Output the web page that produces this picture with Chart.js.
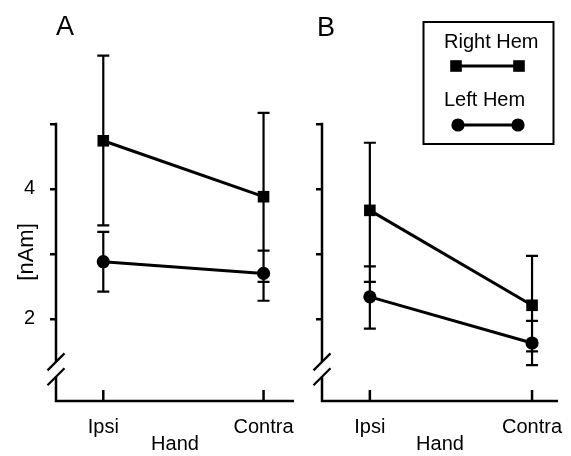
<!DOCTYPE html>
<html>
<head>
<meta charset="utf-8">
<script src="https://cdn.jsdelivr.net/npm/chart.js@4/dist/chart.umd.min.js"></script>
<style>
  html, body { margin: 0; padding: 0; background: #fff; }
  #wrap { position: relative; width: 571px; height: 456px; background: #fff; }
  canvas { position: absolute; top: 0; }
</style>
</head>
<body>
<div id="wrap">
  <canvas id="chartA" width="300" height="456" style="left:0"></canvas>
  <canvas id="chartB" width="281" height="456" style="left:290px"></canvas>
</div>
<script>
// ── Data ──────────────────────────────────────────────────────────────────────
const hands       = ['Ipsi', 'Contra'];
const handPos     = [0, 1];
const yTicks      = [2, 3, 4, 5];
const yTickLabels = ['2', '', '4', ''];
const seriesNames = ['Right Hem', 'Left Hem'];

// Panel A
const aRightMean = [4.74, 3.88];
const aRightHigh = [6.05, 5.17];
const aRightLow  = [3.44, 2.57];
const aLeftMean  = [2.88, 2.70];
const aLeftHigh  = [3.34, 3.05];
const aLeftLow   = [2.42, 2.28];

// Panel B
const bRightMean = [3.67, 2.21];
const bRightHigh = [4.71, 2.97];
const bRightLow  = [2.57, 1.50];
const bLeftMean  = [2.34, 1.63];
const bLeftHigh  = [2.81, 1.97];
const bLeftLow   = [1.85, 1.29];

// axis break (values on the y scale)
const breakTop = 1.34, breakBottom = 1.11;

const FONT = '"Liberation Sans", Arial, Helvetica, sans-serif';
const INK  = '#000';

// ── Helpers ───────────────────────────────────────────────────────────────────
const pts = ys => handPos.map((x, i) => ({ x, y: ys[i] }));

function drawMarker(ctx, style, x, y) {
    ctx.beginPath();
    if (style === 'rect') ctx.rect(x - 5.8, y - 5.8, 11.6, 11.6);
    else ctx.arc(x, y, 6.6, 0, Math.PI * 2);
    ctx.fill();
}

// no label-driven padding: the plot box is placed by hand
const noPad = s => { s.paddingLeft = s.paddingRight = s.paddingTop = s.paddingBottom = 0; };

function decoPlugin(p) {
    return {
        id: 'deco',
        beforeDatasetsDraw(chart) {
            const { ctx, chartArea: ca } = chart;
            const xs = chart.scales.x, ys = chart.scales.y;
            ctx.save();
            ctx.strokeStyle = INK;
            ctx.lineCap = 'butt';

            // axes with break
            ctx.lineWidth = 2.5;
            const ax = ca.left;
            const yTop = ys.getPixelForValue(yTicks[yTicks.length - 1]) - 1.25;
            const b1 = ys.getPixelForValue(breakTop), b2 = ys.getPixelForValue(breakBottom);
            ctx.beginPath();
            ctx.moveTo(ax, yTop); ctx.lineTo(ax, b1);
            ctx.moveTo(ax, b2); ctx.lineTo(ax, ca.bottom);
            ctx.lineTo(ca.right, ca.bottom);
            ctx.stroke();

            ctx.lineWidth = 2.2;
            ctx.beginPath();
            [b1, b2].forEach(b => { ctx.moveTo(ax - 8.5, b + 8.5); ctx.lineTo(ax + 8.5, b - 8.5); });
            ctx.stroke();

            // x tick marks pointing up
            ctx.lineWidth = 2.5;
            ctx.beginPath();
            handPos.forEach(v => {
                const px = xs.getPixelForValue(v);
                ctx.moveTo(px, ca.bottom); ctx.lineTo(px, ca.bottom - 11);
            });
            ctx.stroke();

            // error bars
            ctx.lineWidth = 2.2;
            ctx.beginPath();
            p.errors.forEach(({ low, high }) => {
                handPos.forEach((v, i) => {
                    const px = xs.getPixelForValue(v);
                    const yl = ys.getPixelForValue(low[i]), yh = ys.getPixelForValue(high[i]);
                    ctx.moveTo(px, yh); ctx.lineTo(px, yl);
                    ctx.moveTo(px - 6, yh); ctx.lineTo(px + 6, yh);
                    ctx.moveTo(px - 6, yl); ctx.lineTo(px + 6, yl);
                });
            });
            ctx.stroke();
            ctx.restore();
        },
        afterDraw(chart) {
            const { ctx } = chart;
            const ys = chart.scales.y;
            ctx.save();
            ctx.fillStyle = INK;
            ctx.textBaseline = 'alphabetic';

            // panel letter
            ctx.font = `27px ${FONT}`;
            ctx.textAlign = 'left';
            ctx.fillText(p.letter, p.letterX, p.letterY);

            // y title, sitting at the unlabeled middle tick
            if (p.yTitle) {
                ctx.save();
                ctx.font = `22px ${FONT}`;
                ctx.translate(27, ys.getPixelForValue(3) - 2);
                ctx.rotate(-Math.PI / 2);
                ctx.textAlign = 'center';
                ctx.textBaseline = 'middle';
                ctx.fillText(p.yTitle, 0, 0);
                ctx.restore();
            }

            // legend box
            if (p.legend) {
                ctx.strokeStyle = INK;
                ctx.lineWidth = 2;
                ctx.strokeRect(133.5, 22, 130, 122);
                ctx.font = `20px ${FONT}`;
                ctx.textAlign = 'left';
                ctx.fillText(seriesNames[0], 154, 48);
                ctx.fillText(seriesNames[1], 154, 106);
                ctx.lineWidth = 3;
                ctx.beginPath();
                ctx.moveTo(166, 66); ctx.lineTo(229, 66);
                ctx.moveTo(168, 125); ctx.lineTo(228, 125);
                ctx.stroke();
                drawMarker(ctx, 'rect', 166, 66); drawMarker(ctx, 'rect', 229, 66);
                drawMarker(ctx, 'circle', 168, 125); drawMarker(ctx, 'circle', 228, 125);
            }
            ctx.restore();
        },
    };
}

function makePanel(id, p) {
    new Chart(document.getElementById(id), {
        type: 'scatter',
        data: { datasets: [
            { label: seriesNames[0], data: pts(p.rightMean), showLine: true, borderColor: INK, backgroundColor: INK,
              borderWidth: 3, pointStyle: 'rect', pointRadius: 8.2, pointBorderWidth: 0, pointBackgroundColor: INK },
            { label: seriesNames[1], data: pts(p.leftMean), showLine: true, borderColor: INK, backgroundColor: INK,
              borderWidth: 3, pointStyle: 'circle', pointRadius: 6.6, pointBorderWidth: 0, pointBackgroundColor: INK },
        ]},
        options: {
            responsive: false, animation: false, events: [],
            layout: { autoPadding: false, padding: { top: 40, right: p.padRight, left: 0, bottom: 0 } },
            plugins: { legend: { display: false }, tooltip: { enabled: false } },
            scales: {
                x: {
                    type: 'linear', min: -0.295, max: p.xMax,
                    afterBuildTicks: s => { s.ticks = handPos.map(v => ({ value: v })); },
                    afterFit: s => { s.height = 55; noPad(s); },
                    grid: { display: false }, border: { display: false },
                    ticks: { color: INK, padding: 6, maxRotation: 0, font: { family: FONT, size: 20 }, callback: (v, i) => hands[i] },
                    title: { display: true, text: 'Hand', color: INK, font: { family: FONT, size: 20 }, padding: { top: 0, bottom: 0 } },
                },
                y: {
                    type: 'linear', min: 0.738, max: 6.29,
                    afterBuildTicks: s => { s.ticks = yTicks.map(v => ({ value: v })); },
                    afterFit: s => { s.width = p.yWidth; noPad(s); },
                    grid: { drawOnChartArea: false, drawTicks: true, tickLength: 6, color: INK, lineWidth: 2.5 },
                    border: { display: false },
                    ticks: { display: p.showYLabels, color: INK, padding: 15, font: { family: FONT, size: 20 }, callback: (v, i) => yTickLabels[i] },
                },
            },
        },
        plugins: [decoPlugin(p)],
    });
}

makePanel('chartA', {
    rightMean: aRightMean, leftMean: aLeftMean,
    errors: [{ low: aRightLow, high: aRightHigh }, { low: aLeftLow, high: aLeftHigh }],
    letter: 'A', letterX: 56, letterY: 35, yTitle: '[nAm]', legend: false,
    yWidth: 56, padRight: 6, xMax: 1.19, showYLabels: true,
});

makePanel('chartB', {
    rightMean: bRightMean, leftMean: bLeftMean,
    errors: [{ low: bRightLow, high: bRightHigh }, { low: bLeftLow, high: bLeftHigh }],
    letter: 'B', letterX: 27, letterY: 36, yTitle: null, legend: true,
    yWidth: 32, padRight: 13, xMax: 1.16, showYLabels: false,
});
</script>
</body>
</html>
